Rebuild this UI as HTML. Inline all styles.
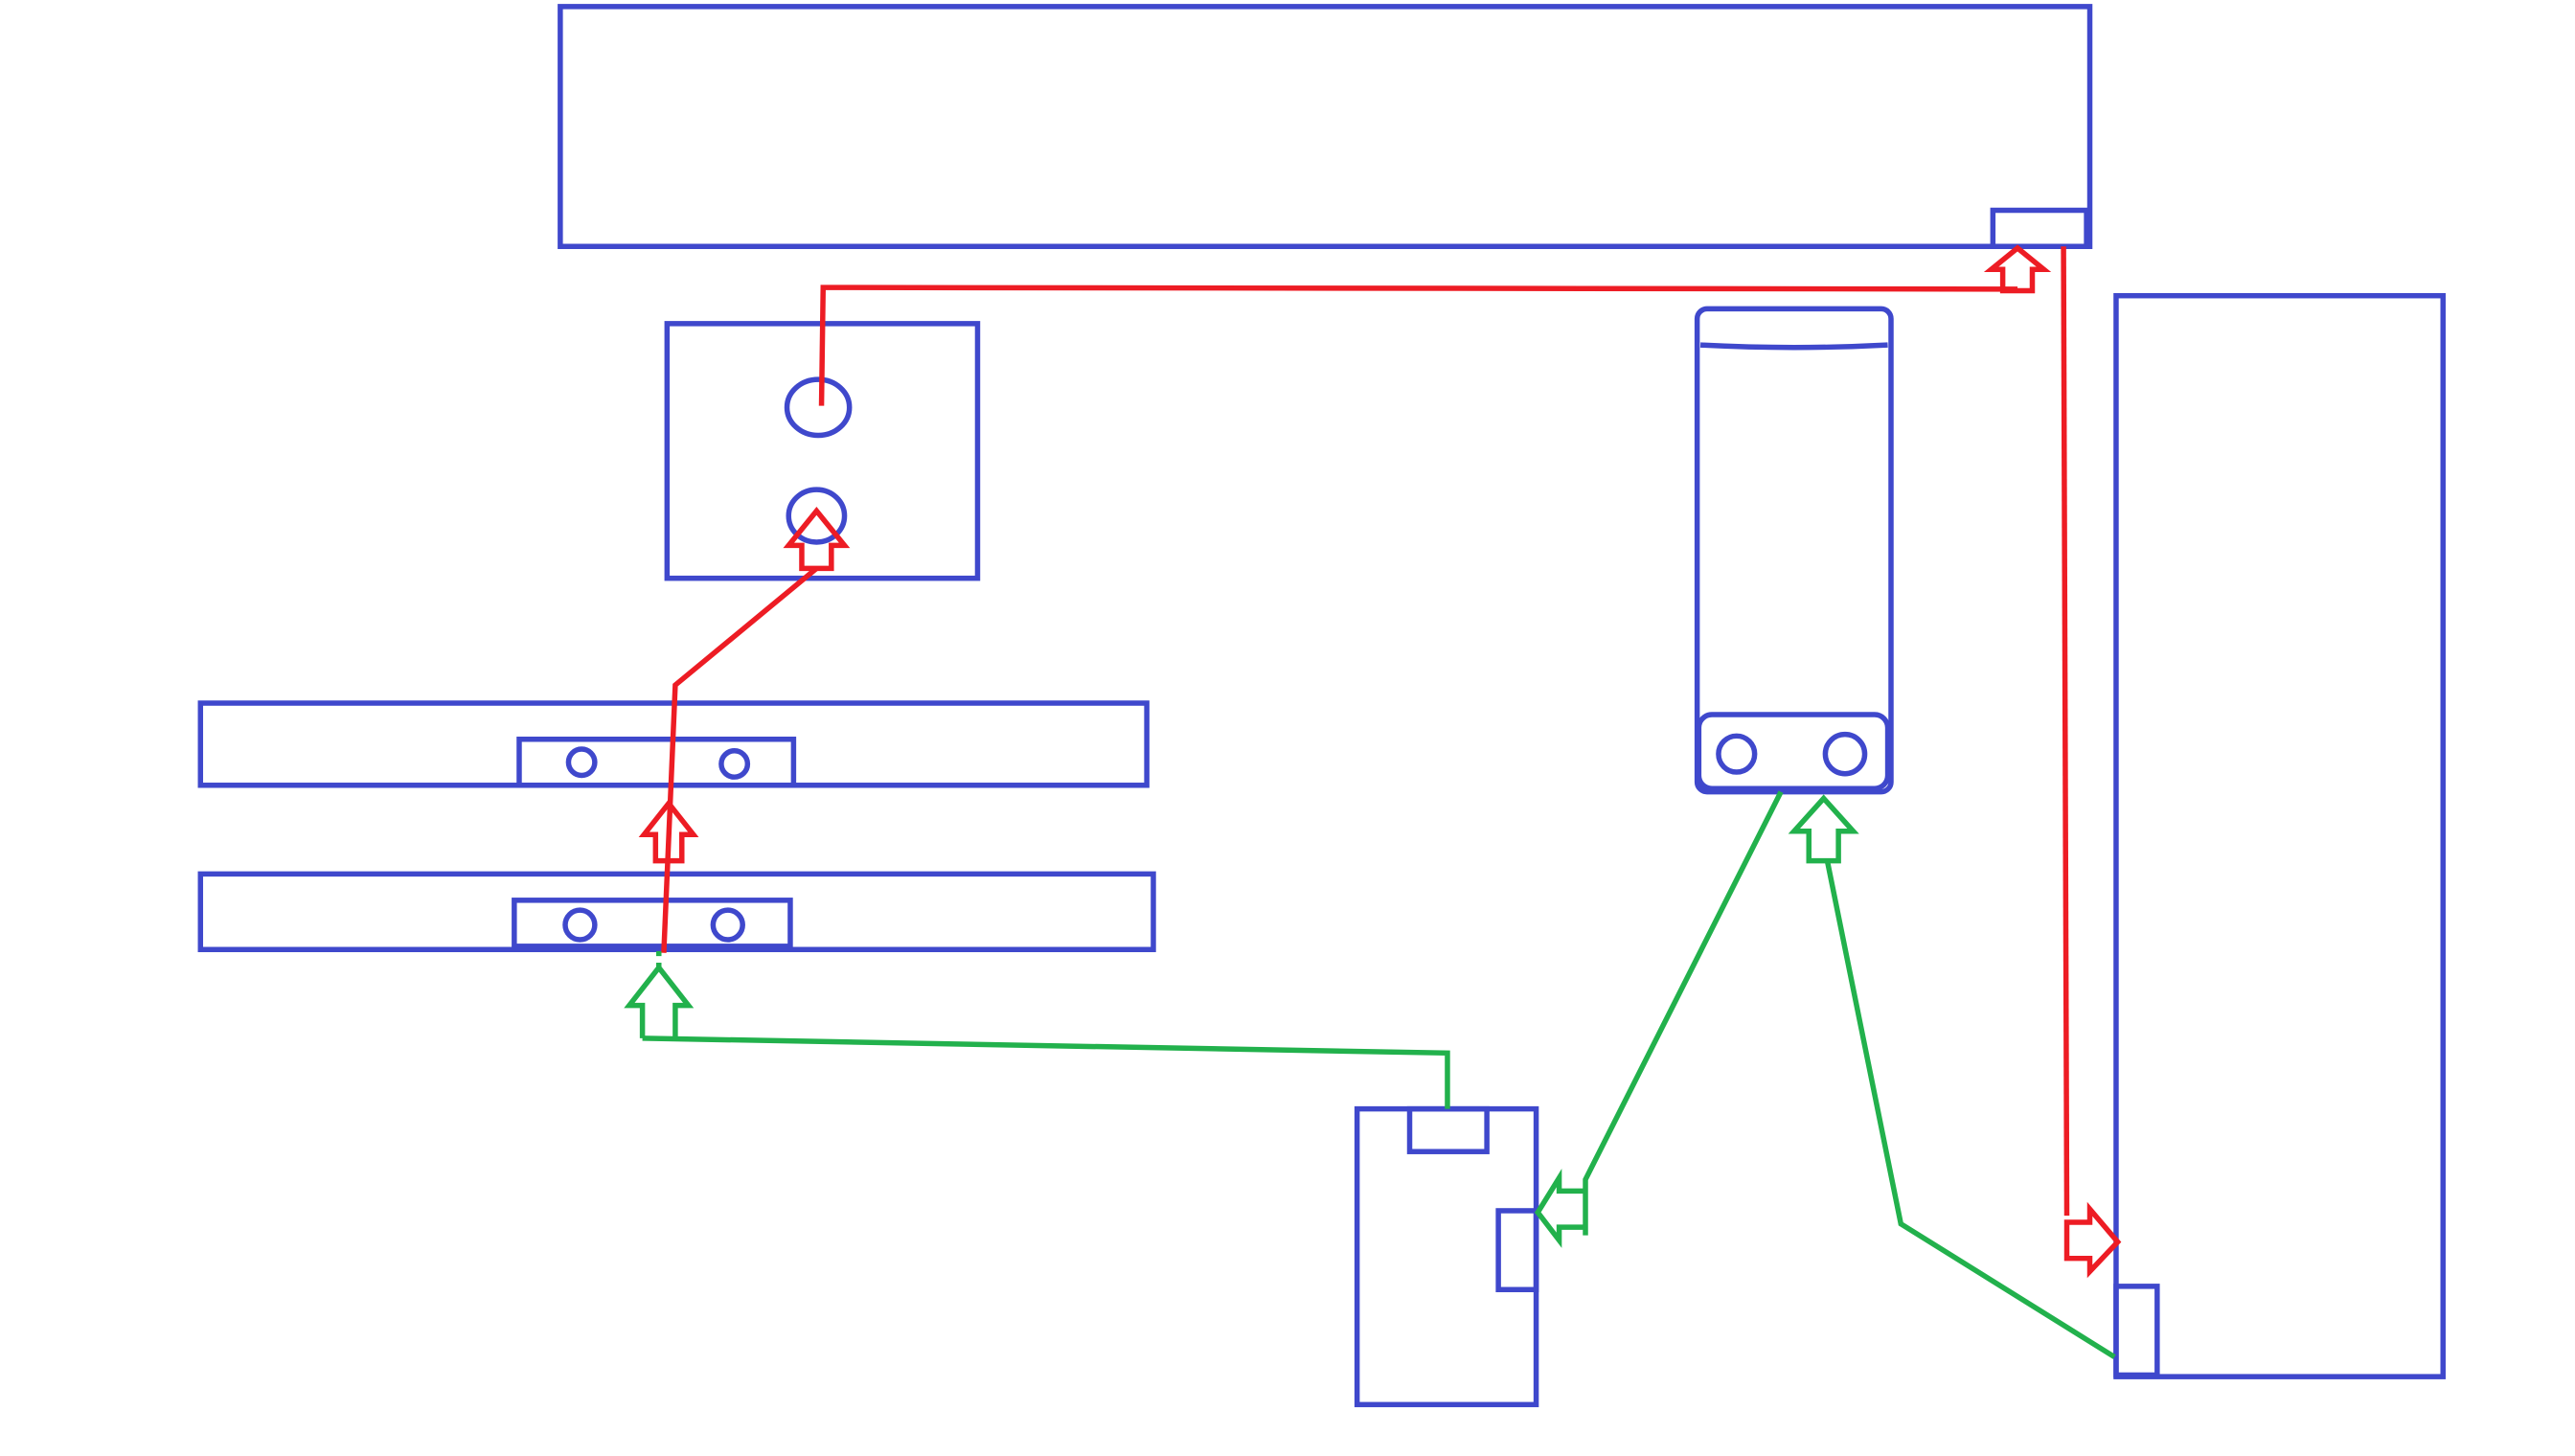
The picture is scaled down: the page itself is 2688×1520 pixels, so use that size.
<!DOCTYPE html>
<html><head><meta charset="utf-8"><style>
html,body{margin:0;padding:0;background:#fff;}
svg{display:block;}
</style></head><body>
<svg width="2688" height="1520" viewBox="0 0 1567.3 886.3" xmlns="http://www.w3.org/2000/svg" fill="none" stroke-width="3.2" stroke-linejoin="miter">
<g stroke="#3f48cc">
<rect x="341" y="4" width="931" height="146"/>
<rect x="1213" y="128" width="57" height="22"/>
<rect x="406" y="197" width="189" height="155"/>
<ellipse cx="498" cy="248" rx="19" ry="17"/>
<ellipse cx="497" cy="314" rx="17" ry="16"/>
<rect x="122" y="428" width="576" height="50"/>
<rect x="316" y="450" width="167" height="28"/>
<circle cx="354" cy="464" r="8"/><circle cx="447" cy="465" r="8"/>
<rect x="122" y="532" width="580" height="46"/>
<rect x="313" y="548" width="168" height="28"/>
<circle cx="353" cy="563" r="9"/><circle cx="443" cy="563" r="9"/>
<rect x="1033" y="188" width="118" height="294" rx="6"/>
<path d="M1035 210 Q1092 213 1149 210"/>
<rect x="1034" y="435" width="115" height="45" rx="8"/>
<circle cx="1057" cy="459" r="11"/><circle cx="1123" cy="459" r="12"/>
<rect x="1288" y="180" width="199" height="658"/>
<rect x="1288" y="783" width="25" height="54"/>
<rect x="826" y="675" width="109" height="180"/>
<rect x="858" y="675" width="47" height="26"/>
<rect x="912" y="737" width="23" height="48"/>
</g>
<g stroke="#ed1c24">
<path d="M500 247 L501 175 L1228 176"/>
<path d="M1219 177 L1219 164 L1212 164 L1228 151 L1244 164 L1237 164 L1237 177 Z"/>
<path d="M1256 150 L1258 740"/>
<path d="M1258 744 L1272 744 L1272 736 L1289 756 L1272 774 L1272 766 L1258 766 Z"/>
<path d="M497 346 L411 417 L404 580"/>
<path d="M488 346 L488 332 L480 332 L497 311 L514 332 L506 332 L506 346 Z"/>
<path d="M399 524 L399 508 L392 508 L407 489 L422 508 L415 508 L415 524 Z"/>
</g>
<g stroke="#22b14c">
<path d="M391 632 L881 641 L881 675"/>
<path d="M391 632 L391 612 L383 612 L401 589 L419 612 L411 612 L411 632"/>
<path d="M401 589 L401 575" stroke-dasharray="3 4"/>
<path d="M1084 482 L965 718 L965 752"/>
<path d="M965 725 L949 725 L949 717 L936 738 L949 755 L949 747 L965 747"/>
<path d="M1287 826 L1157 745 L1112 523"/>
<path d="M1101 524 L1101 506 L1092 506 L1110 486 L1128 506 L1119 506 L1119 524 Z"/>
</g>
</svg>
</body></html>
